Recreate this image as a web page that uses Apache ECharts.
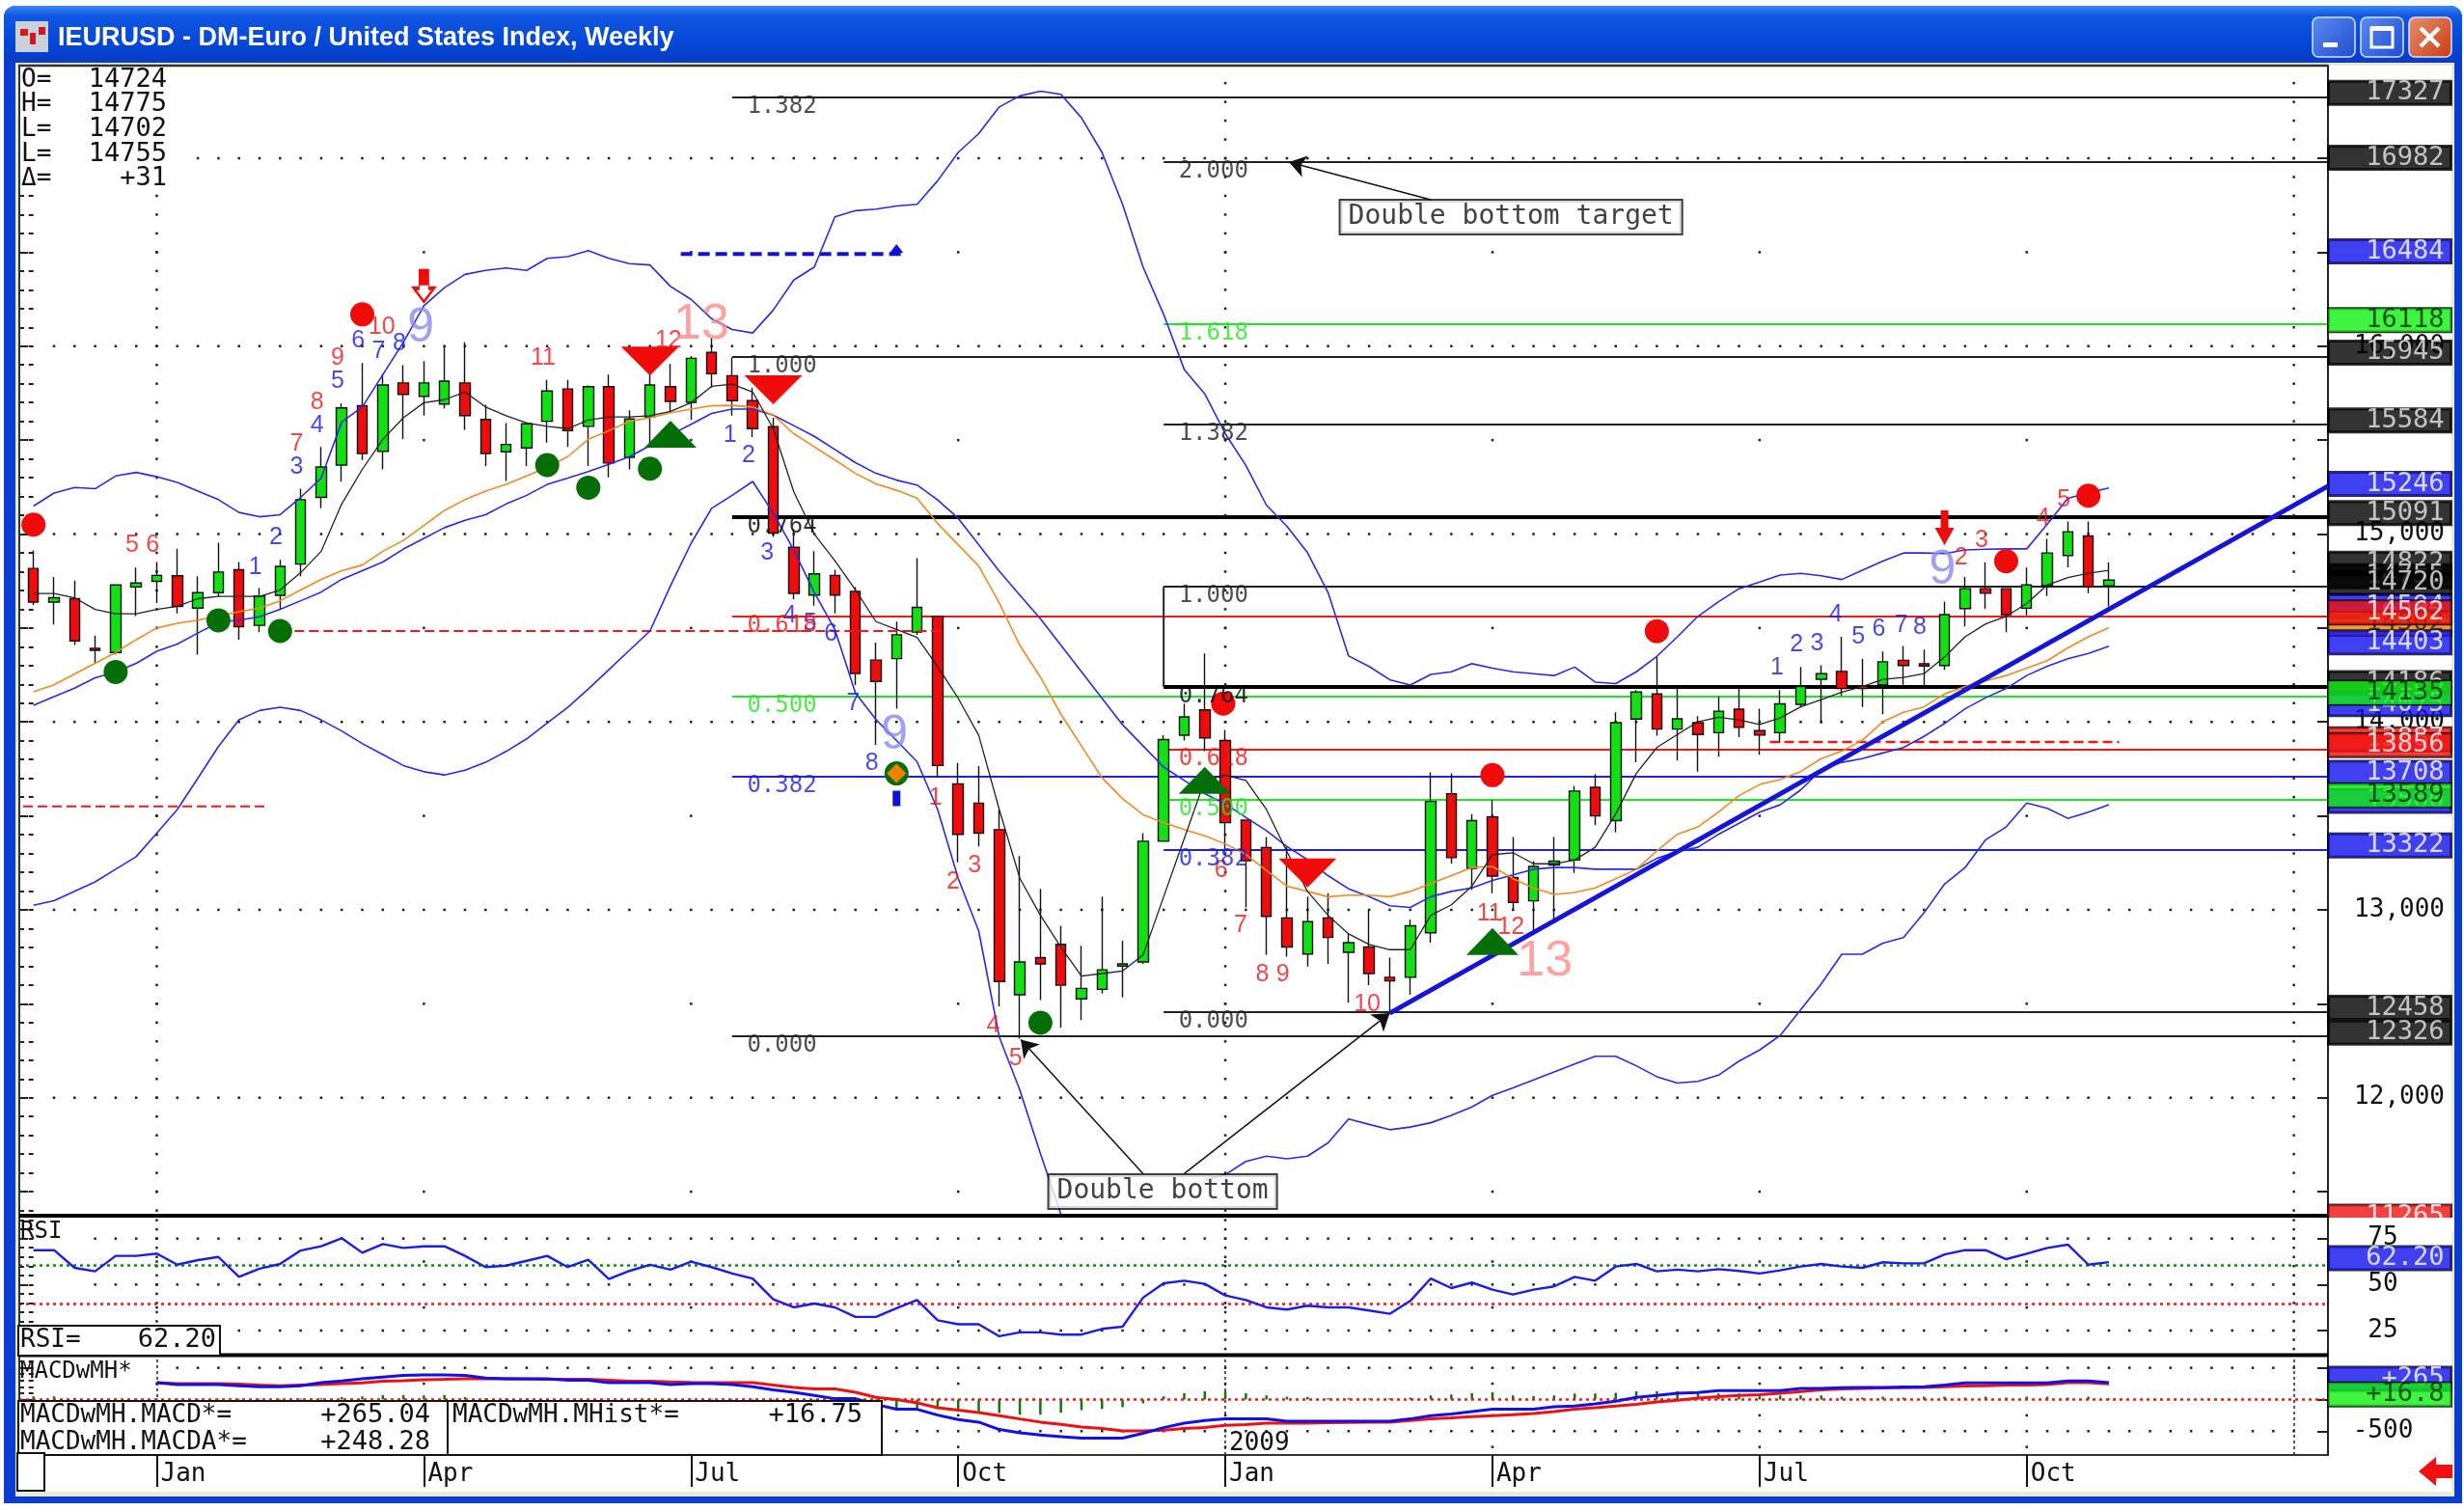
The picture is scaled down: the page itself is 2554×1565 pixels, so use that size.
<!DOCTYPE html>
<html>
<head>
<meta charset="utf-8">
<title>IEURUSD weekly</title>
<script src="https://cdn.jsdelivr.net/npm/echarts@6/dist/echarts.min.js"></script>
<style>
html, body { margin: 0; padding: 0; background: #fff; }
#main { width: 2554px; height: 1565px; }
</style>
</head>
<body>
<div id="main"></div>
<script>
// weekly candles, index 0 = first bar on the left
var opens = [14817,14638,14656,14392,14370,14718,14748,14778,14606,14688,
    14810,14514,14674,14840,15195,15367,15683,15440,15804,15733,
    15692,15804,15610,15438,15458,15600,15772,15573,15784,15408,
    15623,15784,15701,15967,15843,15710,15571,14929,14675,14780,
    14695,14329,14337,14478,14563,13670,13568,13427,12548,12746,
    12816,12526,12577,12701,12723,13365,13929,14064,13901,13478,
    13332,12957,12765,12957,12774,12802,12641,12641,12878,13618,
    13221,13495,13172,13048,13239,13265,13652,13475,14015,14149,
    13962,13996,13943,14068,13954,13943,14094,14227,14269,14192,
    14198,14328,14310,14300,14603,14709,14709,14605,14725,14886,
    14990,14724];
var closes = [14638,14661,14431,14381,14729,14739,14780,14615,14688,14798,
    14507,14670,14828,15183,15357,15671,15428,15793,15743,15804,
    15814,15630,15428,15477,15587,15761,15550,15784,15378,15612,
    15793,15706,15935,15853,15710,15561,15005,14684,14788,14675,
    14258,14216,14464,14610,13768,13402,13408,12619,12723,12712,
    12599,12582,12681,12712,13365,13906,14027,13915,13464,13261,
    12965,12802,12937,12853,12825,12661,12622,12915,13577,13278,
    13475,13180,13039,13231,13259,13632,13500,13996,14159,13962,
    14017,13933,14057,13972,13931,14096,14188,14257,14178,14178,
    14320,14300,14298,14571,14709,14685,14571,14729,14899,15012,
    14719,14755];
var lows = [14622,14519,14409,14312,14358,14564,14633,14578,14358,14668,
    14438,14477,14599,14775,15137,15280,15394,15344,15504,15630,
    15669,15555,15362,15282,15362,15486,15463,15362,15302,15344,
    15458,15646,15607,15779,15630,15516,14985,14653,14619,14577,
    14196,13878,14070,14464,13703,13253,13337,12486,12315,12520,
    12374,12413,12554,12534,12712,13365,13901,13844,13309,13013,
    12760,12751,12698,12712,12506,12599,12450,12548,12825,13247,
    13107,13088,13000,12891,12940,13196,13451,13412,13785,13927,
    13795,13736,13815,13919,13825,13888,14080,13992,14139,14080,
    14041,14198,14174,14277,14508,14601,14477,14567,14670,14823,
    14685,14615];
var highs = [14913,14771,14752,14459,14729,14821,14851,14922,14775,14954,
    14851,14713,14862,15241,15463,15694,15910,15853,15898,15921,
    16001,16020,15688,15591,15596,15820,15820,15791,15848,15658,
    15985,15905,15947,16043,15940,15779,15619,15027,14909,14810,
    14718,14422,14534,14872,14563,13782,13765,13534,13286,13112,
    12915,12808,13070,12836,13408,13929,14098,14365,13957,13478,
    13388,13337,13070,13089,12872,13000,12746,12948,13732,13726,
    13510,13585,13388,13259,13388,13658,13722,14051,14169,14345,
    14188,14031,14135,14184,14070,14169,14292,14302,14453,14336,
    14375,14404,14385,14640,14772,14850,14709,14821,14974,15067,
    15067,14850];

// overlays on the price pane
var fastMa = [14684,14684,14661,14599,14576,14576,14599,14615,14656,14668,
    14668,14668,14702,14794,14908,15160,15344,15504,15619,15699,
    15715,15756,15676,15630,15591,15573,15561,15607,15623,15623,
    15630,15653,15699,15786,15798,15756,15561,15225,14999,14858,
    14703,14534,14492,14450,14295,14126,13929,13534,13168,12971,
    12802,12647,12661,12675,12760,13070,13379,13689,13717,13689,
    13534,13309,13098,12971,12872,12816,12788,12788,12971,13027,
    13126,13294,13304,13245,13245,13265,13333,13510,13726,13864,
    13933,14001,14025,14011,13986,14021,14080,14119,14159,14188,
    14227,14237,14257,14345,14453,14522,14562,14630,14729,14768,
    14791,14807];
var orangeMa = [14161,14198,14255,14312,14370,14438,14500,14525,14542,14564,
    14587,14606,14645,14702,14759,14805,14835,14908,14966,15046,
    15126,15183,15229,15264,15309,15355,15412,15504,15550,15600,
    15619,15646,15665,15683,15685,15676,15633,15534,15464,15394,
    15323,15267,15233,15191,15056,14943,14830,14633,14408,14239,
    14041,13872,13703,13591,13506,13464,13427,13394,13351,13295,
    13210,13126,13098,13070,13078,13078,13070,13098,13140,13182,
    13225,13231,13166,13117,13082,13092,13117,13166,13215,13314,
    13402,13441,13520,13608,13667,13693,13736,13805,13844,13903,
    14001,14051,14080,14149,14188,14218,14247,14286,14326,14394,
    14453,14502];
var bandMid = [14089,14135,14180,14235,14266,14312,14376,14415,14473,14530,
    14542,14560,14599,14645,14691,14759,14805,14851,14920,14977,
    15034,15073,15103,15160,15206,15264,15298,15332,15371,15412,
    15470,15527,15584,15642,15665,15665,15633,15577,15520,15450,
    15380,15323,15287,15261,15182,15084,14943,14802,14675,14549,
    14408,14267,14126,13985,13872,13760,13689,13619,13563,13492,
    13422,13337,13267,13182,13112,13070,13022,13013,13070,13098,
    13117,13157,13186,13216,13225,13225,13216,13216,13216,13274,
    13310,13333,13402,13461,13520,13559,13638,13746,13785,13805,
    13835,13864,13923,13992,14070,14129,14178,14247,14296,14336,
    14365,14403];
var bandUp = [15149,15218,15248,15241,15309,15328,15305,15275,15229,15183,
    15115,15092,15103,15195,15298,15596,15676,15848,16020,16215,
    16311,16382,16403,16416,16403,16467,16476,16508,16467,16439,
    16432,16318,16249,16146,16089,16070,16192,16352,16421,16688,
    16721,16729,16746,16755,16880,17031,17131,17273,17332,17357,
    17340,17215,17031,16755,16420,16169,15876,15746,15534,15365,
    15154,15041,14901,14689,14351,14295,14225,14196,14253,14267,
    14310,14286,14267,14257,14247,14292,14212,14204,14267,14349,
    14453,14562,14640,14709,14744,14782,14791,14778,14758,14807,
    14856,14899,14899,14896,14915,14919,14921,14921,15053,15190,
    15220,15245];
// the lower band runs off the pane behind the "Double bottom" box
var bandLow = [13024,13049,13099,13149,13216,13283,13408,13534,13701,13869,
    14011,14061,14078,14061,14011,13952,13885,13827,13768,13735,
    13718,13743,13785,13843,13910,13994,14078,14175,14278,14381,
    14484,14725,14950,15137,15206,15280,15112,14915,14689,14492,
    14154,14013,13901,13788,13534,13168,12887,12323,12041,11703,
    11380,null,null,null,null,null,null,11562,11591,11661,
    11689,11675,11689,11760,11887,11858,11830,11844,11867,11906,
    11951,12013,12053,12095,12137,12179,12221,12221,12170,12112,
    12078,12087,12120,12195,12254,12331,12469,12606,12764,12764,
    12823,12852,12984,13137,13225,13373,13441,13569,13540,13487,
    13520,13560];

var rsi = [68.7,68.7,59.1,57.2,65.6,65.6,66.8,60.8,63.3,65.0,
    54.2,58.6,61.2,68.5,70.8,75.2,67.3,72.0,69.9,70.8,
    70.8,65.6,59.5,60.3,62.9,65.6,59.5,63.5,53.0,57.4,
    60.7,58.1,62.4,59.5,56.0,53.3,42.0,37.6,39.7,37.6,
    32.4,32.4,37.1,41.6,30.6,28.4,28.4,21.9,24.0,24.0,
    22.8,22.8,25.9,27.1,42.9,50.7,52.1,50.4,44.1,41.6,
    37.6,36.4,38.5,37.6,37.6,35.9,34.1,41.1,53.3,48.1,
    51.1,47.2,44.6,47.2,49.0,54.2,52.1,59.8,61.2,57.2,
    58.1,57.2,58.4,57.4,56.0,57.7,59.8,61.2,59.8,59.1,
    62.1,61.5,61.5,66.4,68.7,68.7,63.8,66.8,69.9,71.7,
    60.8,62.2];

var macd = [null,null,null,null,null,null,267,237,237,237,
    217,201,201,217,267,293,328,354,379,389,
    389,379,339,328,328,328,303,303,267,267,
    267,237,252,252,237,201,151,115,64,13,
    13,-78,-154,-154,-246,-317,-357,-474,-525,-561,
    -586,-611,-611,-611,-535,-444,-373,-332,-307,-307,
    -307,-342,-342,-342,-342,-342,-342,-307,-256,-230,
    -190,-154,-154,-154,-114,-103,-68,-27,34,64,
    100,110,140,140,140,140,176,176,186,191,
    191,196,201,227,262,262,262,262,262,293,
    293,265];
var macdAvg = [null,null,null,null,null,null,267,252,252,252,
    242,227,217,227,237,252,262,288,298,313,
    318,328,328,328,323,318,318,318,303,288,
    288,278,272,267,267,267,227,191,166,166,
    115,34,-2,-53,-129,-169,-205,-256,-307,-357,
    -393,-434,-459,-495,-495,-485,-459,-444,-408,-398,
    -373,-373,-373,-368,-362,-357,-357,-332,-307,-291,
    -271,-256,-241,-220,-190,-154,-129,-103,-78,-37,
    -12,24,44,64,74,100,125,151,166,176,
    181,186,191,201,212,217,227,227,237,267,
    267,248];
var macdHist = [50,50,20,20,15,15,15,15,10,10,
    10,10,10,15,20,40,50,70,70,65,
    70,40,20,15,10,10,10,10,10,10,
    10,10,10,10,10,10,-20,-40,-60,-80,
    -100,-130,-150,-150,-150,-170,-190,-215,-240,-240,
    -210,-170,-150,-120,-60,50,100,130,130,100,
    65,45,40,20,20,15,20,30,65,80,
    100,115,65,55,65,95,95,105,130,130,
    130,95,95,95,65,65,65,65,45,30,
    45,30,45,45,30,45,30,45,45,30,
    45,17];

// fibonacci levels: [label, price, colour]
var fibOne = [['1.382',17327,'#222'],['1.000',15945,'#222'],['0.764',15091,'#000'],
    ['0.618',14562,'#f01818'],['0.500',14135,'#22e622'],['0.382',13708,'#2222dd'],['0.000',12326,'#222']];
var fibTwo = [['2.000',16982,'#222'],['1.618',16118,'#22e622'],['1.382',15584,'#222'],['1.000',14720,'#222'],
    ['0.764',14186,'#000'],['0.618',13856,'#f01818'],['0.500',13589,'#22e622'],['0.382',13322,'#2222dd'],['0.000',12458,'#222']];
var fibOneStart = 34, fibTwoStart = 55;

// counters: [week, price, text]
var redCounts = [[4.8,14938,'5'],[5.8,14938,'6'],[12.8,15477,'7'],[13.8,15699,'8'],[14.8,15935,'9'],[16.95,16100,'10'],
    [24.8,15935,'11'],[30.9,16027,'12'],[43.9,13596,'1'],[44.75,13148,'2'],[45.8,13238,'3'],[46.7,12385,'4'],[47.8,12210,'5'],
    [57.8,13210,'6'],[58.75,12915,'7'],[59.8,12656,'8'],[60.8,12656,'9'],[64.9,12498,'10'],[70.85,12980,'11'],[71.9,12905,'12'],
    [93.8,14876,'2'],[94.8,14968,'3'],[97.8,15086,'4'],[98.8,15184,'5']];
var blueCounts = [[10.8,14823,'1'],[11.8,14982,'2'],[12.8,15355,'3'],[13.8,15578,'4'],[14.8,15814,'5'],[15.8,16027,'6'],
    [16.8,15974,'7'],[17.8,16015,'8'],[33.9,15527,'1'],[34.8,15417,'2'],[35.7,14901,'3'],[36.8,14563,'4'],[37.8,14525,'5'],
    [38.8,14470,'6'],[39.9,14098,'7'],[40.8,13782,'8'],[84.85,14286,'1'],[85.8,14410,'2'],[86.8,14418,'3'],[87.7,14571,'4'],
    [88.8,14450,'5'],[89.8,14493,'6'],[90.9,14512,'7'],[91.8,14503,'8']];
var bigRed = [[32.5,16112,'13'],[73.55,12724,'13']];
var bigBlue = [[18.85,16093,'9'],[41.9,13929,'9'],[92.9,14807,'9']];

// markers: [week, price]
var redDots = [[0,15050],[16,16169],[57.9,14098],[71,13717],[79,14483],[96,14856],[100,15204]];
var greenDots = [[4,14266],[9,14541],[12,14484],[25,15367],[27,15247],[30,15348],[42,13726],[49,12399]];
var sellTriangles = [[30,15921],[36,15768],[62,13196]];
var buyTriangles = [[31,15532],[57,13689],[71,12832]];

// price tags on the right, listed bottom to top of the stacking
var tagValues = [17327,16982,16484,16118,15945,15584,15246,15091,14822,14755,14720,14594,14502,14403,14562,14186,14075,14135,13887,13856,13708,13560,13589,13322,12458,12326];
var tagColors = ['k','k','b','g','k','k','b','k','k','k','k','b','o','b','r','k','b','g','r','r','b','b','g','b','k','k'];

var monthTicks = [6,19,32,45,58,71,84,97];
var monthLabels = ['Jan','Apr','Jul','Oct','Jan','Apr','Jul','Oct'];
var priceLabels = [12000,13000,14000,15000,16000];
var rsiLabels = [25,50,75];
var macdLabels = [-500];

var MONO = '"DejaVu Sans Mono", monospace';
var SANS = '"Liberation Sans", Arial, sans-serif';
var xMin = -0.69, xMax = 111.66;
var paneBox = { left: 20, right: 141 };

function steps(a, b, step) {
    var out = [];
    for (var v = a; v <= b + 1e-6; v += step) out.push(v);
    return out;
}
function pts(values) {
    return values.map(function (v, i) { return [i, v]; });
}
function xAxisFor(grid, shown) {
    return {
        type: 'value', gridIndex: grid, min: xMin, max: xMax, show: shown,
        splitLine: { show: false },
        axisLine: { show: true, onZero: false, lineStyle: { color: '#333', width: 2 } },
        axisTick: { show: true, customValues: monthTicks, length: 33, lineStyle: { color: '#111', width: 2 } },
        axisLabel: {
            show: true, customValues: monthTicks, align: 'left', margin: 7, padding: [0, 0, 0, 4],
            color: '#111', fontFamily: MONO, fontSize: 26,
            formatter: function (v) { return monthLabels[monthTicks.indexOf(v)]; }
        }
    };
}
// every pane has fine and coarse ticks on both sides, so four y axes share one scale
function paneAxes(grid, min, max, fine, coarse, labels, labelStyle, z) {
    function ax(pos, ticks, len, extra) {
        var a = {
            type: 'value', gridIndex: grid, position: pos, min: min, max: max, z: z,
            splitLine: { show: false },
            axisLine: { show: false },
            axisTick: { show: true, inside: true, length: len, customValues: ticks, lineStyle: { color: '#222', width: 2 } },
            axisLabel: { show: false }
        };
        for (var k in extra) a[k] = extra[k];
        return a;
    }
    return [
        ax('right', fine, 5, {}),
        ax('right', coarse, 11, {
            axisLine: { show: true, onZero: false, lineStyle: { color: '#222', width: 2 } },
            axisLabel: Object.assign({ show: true, customValues: labels, color: '#111', fontFamily: MONO, fontSize: 26 }, labelStyle)
        }),
        ax('left', fine, 5, {}),
        ax('left', coarse, 9, {})
    ];
}
function lineSeries(name, values, color, width, xi, yi, z) {
    return {
        name: name, type: 'line', data: pts(values), xAxisIndex: xi, yAxisIndex: yi, z: z || 3,
        symbol: 'none', smooth: false, lineStyle: { color: color, width: width }
    };
}
function segment(name, a, b, color, width, dash, z) {
    return {
        name: name, type: 'line', data: [a, b], xAxisIndex: 0, yAxisIndex: 0, z: z || 3,
        symbol: 'none', lineStyle: { color: color, width: width, type: dash || 'solid' }
    };
}
function markers(name, rows, symbol, size, color, rotate, z, xi, yi) {
    return {
        name: name, type: 'scatter', data: rows, xAxisIndex: xi || 0, yAxisIndex: yi || 0, z: z || 4,
        symbol: symbol, symbolSize: size, symbolRotate: rotate || 0, clip: true,
        itemStyle: { color: color, opacity: 1 }
    };
}
function textSeries(name, rows, color, fontSize, family) {
    return {
        name: name, type: 'scatter', data: rows, xAxisIndex: 0, yAxisIndex: 0, z: 5, clip: false,
        symbolSize: 1, itemStyle: { color: 'rgba(0,0,0,0)' },
        label: {
            show: true, position: 'inside', color: color, fontSize: fontSize, fontFamily: family || SANS,
            formatter: function (p) { return p.data[2]; }
        }
    };
}
function fibSeries(name, levels, start) {
    return {
        name: name, type: 'line', data: [], xAxisIndex: 0, yAxisIndex: 0,
        markLine: {
            silent: true, z: 1, symbol: 'none', label: { show: false }, animation: false,
            data: levels.map(function (f) {
                return [
                    { coord: [start, f[1]], lineStyle: { color: f[2], width: f[0] === '0.764' ? 4 : 2, type: 'solid' } },
                    { coord: [xMax, f[1]] }
                ];
            })
        }
    };
}
function fibLabels(name, levels, start) {
    return {
        name: name, type: 'scatter', xAxisIndex: 0, yAxisIndex: 0, z: 5, clip: false,
        symbolSize: 1, itemStyle: { color: 'rgba(0,0,0,0)' },
        data: levels.map(function (f) {
            return {
                value: [start, f[1]],
                label: {
                    show: true, position: 'right', distance: 0, offset: [15, 10], formatter: f[0],
                    color: f[2], fontFamily: MONO, fontSize: 24
                }
            };
        })
    };
}
function arrowLines(rows) {
    return {
        name: 'arrows', type: 'line', data: [], xAxisIndex: 0, yAxisIndex: 0,
        markLine: {
            silent: true, z: 4, symbol: ['none', 'arrow'], symbolSize: 17, label: { show: false }, animation: false,
            lineStyle: { color: '#111', width: 1.5, type: 'solid' },
            data: rows.map(function (r) { return [{ coord: r[0] }, { coord: r[1] }]; })
        }
    };
}
function hLines(name, xi, yi, rows) {
    return {
        name: name, type: 'line', data: [], xAxisIndex: xi, yAxisIndex: yi,
        markLine: {
            silent: true, z: 3, symbol: 'none', label: { show: false }, animation: false,
            data: rows.map(function (r) {
                return [
                    { coord: [xMin, r[0]], lineStyle: { color: r[1], width: 2.5, type: [3, 4] } },
                    { coord: [xMax, r[0]] }
                ];
            })
        }
    };
}
var tagFill = { k: '#000', b: '#1010ee', g: '#10f010', r: '#f01010', o: '#f08000' };
var tagInk = { k: '#e8e8e8', b: '#fff', g: '#003000', r: '#fff', o: '#222' };
function tagItem(value, colorKey, text) {
    return {
        value: [xMax, value],
        label: {
            show: true, position: 'right', distance: 0, align: 'right', verticalAlign: 'middle',
            offset: [127, -4], width: 120, height: 24, lineHeight: 24, padding: [0, 7, 0, 0],
            formatter: text, color: tagInk[colorKey], backgroundColor: tagFill[colorKey],
            borderColor: '#000', borderWidth: 1.5, fontFamily: MONO, fontSize: 27
        }
    };
}
function tagSeries(name, items, xi, yi, z) {
    return {
        name: name, type: 'scatter', data: items, xAxisIndex: xi, yAxisIndex: yi, z: z, clip: false,
        symbolSize: 1, itemStyle: { color: 'rgba(0,0,0,0)' }
    };
}

// dotted price grid, same spacing as the bars
var dotsMain = [], dotsRsi = [], dotsMacd = [];
[12000,13000,14000,15000,16000,17000].forEach(function (lvl) {
    steps(1, 110, 1).forEach(function (i) { dotsMain.push([i, lvl]); });
});
[6,58,110].forEach(function (c) {
    steps(11400, 17400, 100).forEach(function (lvl) { dotsMain.push([c, lvl]); });
    steps(15, 85, 5).forEach(function (lvl) { dotsRsi.push([c, lvl]); });
});
monthTicks.forEach(function (c) {
    [11500,12500,13500,14500,15500,16500,17500].forEach(function (lvl) { dotsMain.push([c, lvl]); });
    [37.5,62.5].forEach(function (lvl) { dotsRsi.push([c, lvl]); });
    [250,-250,-750].forEach(function (lvl) { dotsMacd.push([c, lvl]); });
});
[75,50,25].forEach(function (lvl) {
    steps(3, 110, 1).forEach(function (i) { dotsRsi.push([i, lvl]); });
});
[500,-500].forEach(function (lvl) {
    steps(7, 110, 1).forEach(function (i) { dotsMacd.push([i, lvl]); });
});

var candles = opens.map(function (o, i) { return [i, o, closes[i], lows[i], highs[i]]; });
var histBars = pts(macdHist);

var arrowDown = 'path://M3,0 H7 V6 H10 L5,12 L0,6 H3 Z';

var yAxes = []
    .concat(paneAxes(0, 11367, 17493, steps(11400, 17400, 100), steps(11500, 17000, 500), priceLabels,
        { align: 'right', margin: 121 }, 0))
    .concat(paneAxes(1, 11.37, 86.37, steps(15, 85, 5), rsiLabels, rsiLabels,
        { align: 'center', margin: 57 }, 4))
    .concat(paneAxes(2, -877, 678, steps(-800, 600, 100), [-500, 0, 500], macdLabels,
        { align: 'center', margin: 57 }, 0));

var series = [
    { name: 'fib guide', type: 'line', data: [[fibTwoStart, 14720], [fibTwoStart, 14186]], xAxisIndex: 0, yAxisIndex: 0, z: 1, symbol: 'none', lineStyle: { color: '#222', width: 2 } },
    markers('price dots', dotsMain, 'rect', 2.5, '#222', 0, 1),
    fibSeries('fib one', fibOne, fibOneStart),
    fibSeries('fib two', fibTwo, fibTwoStart),
    segment('resist dash', [31.5, 16490], [42.4, 16490], '#1010d8', 4, [12, 6]),
    segment('stop dash left', [-0.5, 13551], [11.4, 13551], '#f01818', 2, [10, 5]),
    segment('stop dash mid', [12, 14484], [44.2, 14484], '#f01818', 2, [10, 5]),
    segment('stop dash right', [84.5, 13893], [101.5, 13893], '#f01818', 2.5, [10, 5]),
    {
        name: 'EURUSD', type: 'candlestick', data: candles, xAxisIndex: 0, yAxisIndex: 0, z: 2,
        barWidth: 11, clip: true,
        itemStyle: { color: '#12e012', color0: '#ee0c0c', borderColor: '#111', borderColor0: '#111', borderWidth: 1.4 }
    },
    lineSeries('band up', bandUp, '#2a2ae6', 1.6, 0, 0),
    lineSeries('band low', bandLow, '#2a2ae6', 1.6, 0, 0),
    lineSeries('band mid', bandMid, '#2a2ae6', 1.6, 0, 0),
    lineSeries('orange ma', orangeMa, '#f08a20', 1.6, 0, 0),
    lineSeries('fast ma', fastMa, '#222', 1.3, 0, 0),
    segment('trend', [66, 12450], [xMax, 15255], '#1515d8', 5),
    arrowLines([
        [[68, 16779], [61.1, 16979]],
        [[54, 11596], [48.05, 12309]],
        [[56, 11596], [66, 12450]]
    ]),
    markers('red dots', redDots, 'circle', 25, '#f00a0a'),
    markers('green dots', greenDots, 'circle', 25, '#066e06'),
    markers('sell', sellTriangles, 'triangle', [60, 30], '#f00a0a', 180),
    markers('buy', buyTriangles, 'triangle', [54, 28], '#066e06'),
    markers('diamond', [[42, 13726]], 'diamond', 20, '#f08000', 0, 5),
    markers('stub', [[42, 13593]], 'rect', [8, 16], '#1010d8'),
    markers('blue tip', [[42, 16520]], 'triangle', [14, 9], '#1010d8'),
    markers('top arrow', [[19, 16318]], arrowDown, [27, 36], '#f00a0a'),
    markers('top arrow inner', [[19, 16285]], 'path://M2,0 H8 V3 H10 L5,9 L0,3 H2 Z', [15, 15], '#fff', 0, 5),
    markers('down arrow', [[93, 15033]], arrowDown, [20, 36], '#f00a0a'),
    textSeries('red counts', redCounts, '#f01818', 25),
    textSeries('blue counts', blueCounts, '#1a1ae0', 25),
    textSeries('big red', bigRed, '#ff8a8a', 52),
    textSeries('big blue', bigBlue, '#8a8af0', 50),
    fibLabels('fib one labels', fibOne, fibOneStart),
    fibLabels('fib two labels', fibTwo, fibTwoStart),
    {
        name: 'notes', type: 'scatter', xAxisIndex: 0, yAxisIndex: 0, z: 6, clip: false,
        symbolSize: 1, itemStyle: { color: 'rgba(0,0,0,0)' },
        label: {
            show: true, position: 'inside', color: '#111', fontFamily: MONO, fontSize: 28,
            backgroundColor: '#fff', borderColor: '#111', borderWidth: 2, padding: [3, 8, 3, 8],
            formatter: function (p) { return p.data[2]; }
        },
        data: [[71.9, 16687, 'Double bottom target'], [54.95, 11501, 'Double bottom']]
    },
    tagSeries('price tags', tagValues.map(function (v, i) { return tagItem(v, tagColors[i], String(v)); }), 0, 0, 2),
    // the bottom tag is cut by the RSI pane; its box sits a bit above what its text says on this scale
    tagSeries('low tag', [tagItem(11347, 'r', '11265')], 0, 0, 2),

    markers('rsi dots', dotsRsi, 'rect', 2.5, '#222', 0, 1, 1, 4),
    hLines('rsi levels', 1, 4, [[60.3, '#0a8a0a'], [39.6, '#f01818']]),
    lineSeries('RSI', rsi, '#1c1ce8', 2.4, 1, 4),
    tagSeries('rsi tag', [tagItem(62.2, 'b', '62.20')], 1, 4, 5),

    markers('macd dots', dotsMacd, 'rect', 2.5, '#222', 0, 1, 2, 8),
    { name: 'MHist', type: 'bar', data: histBars, xAxisIndex: 2, yAxisIndex: 8, barWidth: 2.5, z: 2, itemStyle: { color: '#0a7a0a' } },
    hLines('macd zero', 2, 8, [[0, '#f01818']]),
    lineSeries('MACDA', macdAvg, '#f01010', 3, 2, 8),
    lineSeries('MACD', macd, '#1010e8', 3, 2, 8),
    tagSeries('macd tags', [tagItem(265, 'b', '+265'), Object.assign(tagItem(16.8, 'g', '+16.8'))], 2, 8, 5),
    {
        name: 'year lines', type: 'line', data: [], xAxisIndex: 2, yAxisIndex: 8,
        markLine: {
            silent: true, z: 2, symbol: 'none', label: { show: false }, animation: false,
            lineStyle: { color: '#222', width: 1.5, type: [3, 3] },
            data: [6, 58, 110].map(function (c) { return [{ coord: [c, -877] }, { coord: [c, 678] }]; })
        }
    }
];

function txt(x, y, s, size, color, align, family, weight) {
    return {
        type: 'text', x: x, y: y, z: 8, silent: true,
        style: {
            text: s, fill: color || '#111', fontSize: size, fontFamily: family || MONO,
            fontWeight: weight || 'normal', align: align || 'left', verticalAlign: 'middle'
        }
    };
}
function box(x, y, w, h, fill, stroke, z, lw) {
    return {
        type: 'rect', z: z === undefined ? 7 : z, silent: true,
        shape: { x: x, y: y, width: w, height: h },
        style: { fill: fill, stroke: stroke || null, lineWidth: lw || 2 }
    };
}
function lineEl(x1, y1, x2, y2, w, color) {
    return {
        type: 'line', z: 7, silent: true, shape: { x1: x1, y1: y1, x2: x2, y2: y2 },
        style: { stroke: color || '#111', lineWidth: w }
    };
}
function winBtn(x, fillA, fillB) {
    return {
        type: 'rect', z: 7, silent: true, shape: { x: x, y: 18, width: 44, height: 41, r: 6 },
        style: {
            fill: new echarts.graphic.LinearGradient(0, 0, 1, 1, [{ offset: 0, color: fillA }, { offset: 1, color: fillB }]),
            stroke: '#d8e4fa', lineWidth: 1.5
        }
    };
}

var chrome = [
    // frame behind the panes
    { type: 'rect', z: -2, silent: true, shape: { x: 4, y: 6, width: 2548, height: 1552, r: [12, 12, 0, 0] }, style: { fill: '#0a3ccf' } },
    {
        type: 'rect', z: -2, silent: true, shape: { x: 4, y: 6, width: 2548, height: 60, r: [12, 12, 0, 0] },
        style: {
            fill: new echarts.graphic.LinearGradient(0, 0, 0, 1, [
                { offset: 0, color: '#3c86f2' }, { offset: 0.18, color: '#0f56e2' },
                { offset: 0.7, color: '#0645d6' }, { offset: 1, color: '#0a3cc4' }
            ])
        }
    },
    box(16, 65, 2528, 1486, '#ece9d8', null, -1),
    box(19, 68, 2522, 1478, '#ffffff', null, -1),
    txt(60, 40, 'IEURUSD - DM-Euro / United States Index, Weekly', 27, '#ffffff', 'left', SANS, 'bold'),
    box(16, 22, 34, 32, '#c8d0dc', null, 7),
    box(21, 30, 8, 7, '#d81818', null, 7),
    box(31, 34, 6, 12, '#d81818', null, 7),
    box(40, 28, 7, 8, '#d81818', null, 7),
    winBtn(2397, '#5e8cf0', '#1f4bd0'),
    winBtn(2447, '#5e8cf0', '#1f4bd0'),
    winBtn(2497, '#e89070', '#c83c10'),
    box(2408, 44, 15, 5, '#ffffff', null, 8),
    box(2458, 29, 22, 20, 'rgba(0,0,0,0)', '#ffffff', 8, 3),
    box(2458, 27, 22, 5, '#ffffff', null, 8),
    lineEl(2509, 29, 2528, 48, 4.5, '#ffffff'),
    lineEl(2528, 29, 2509, 48, 4.5, '#ffffff'),

    // pane borders
    lineEl(19, 68, 2413, 68, 2.5, '#333'),
    lineEl(20, 68, 20, 1508, 2, '#333'),
    lineEl(20, 1260, 2413, 1260, 4, '#000'),
    lineEl(20, 1404.5, 2413, 1404.5, 4, '#000'),

    // cover for the cut-off low tag
    box(2414, 1262, 130, 14, '#ffffff', null, 3),

    // OHLC readout
    box(21, 70, 180, 126, '#ffffff', null, 6),
    txt(22, 83, 'O=', 26), txt(173, 83, '14724', 27, '#111', 'right'),
    txt(22, 108, 'H=', 26), txt(173, 108, '14775', 27, '#111', 'right'),
    txt(22, 134, 'L=', 26), txt(173, 134, '14702', 27, '#111', 'right'),
    txt(22, 160, 'L=', 26), txt(173, 160, '14755', 27, '#111', 'right'),
    txt(22, 185, '\u0394=', 26), txt(173, 185, '+31', 27, '#111', 'right'),

    // pane captions and readout boxes
    txt(21, 1277, 'RSI', 24),
    box(19, 1374, 209, 31, '#ffffff', '#111'),
    txt(21, 1389, 'RSI=', 26), txt(224, 1389, '62.20', 27, '#111', 'right'),
    txt(21, 1422, 'MACDwMH*', 24),
    box(19, 1452, 445, 56, '#ffffff', '#111'),
    box(464, 1452, 450, 56, '#ffffff', '#111'),
    txt(21, 1467, 'MACDwMH.MACD*=', 26), txt(446, 1467, '+265.04', 27, '#111', 'right'),
    txt(21, 1495, 'MACDwMH.MACDA*=', 26), txt(446, 1495, '+248.28', 27, '#111', 'right'),
    txt(469, 1467, 'MACDwMH.MHist*=', 26), txt(894, 1467, '+16.75', 27, '#111', 'right'),
    txt(1274, 1496, '2009', 26),

    // corner bits of the window
    box(18, 1506, 28, 39, '#ffffff', '#111'),
    {
        type: 'polygon', z: 7, silent: true,
        shape: { points: [[2507, 1525], [2525, 1510], [2525, 1518], [2542, 1518], [2542, 1532], [2525, 1532], [2525, 1540]] },
        style: { fill: '#f01010' }
    }
];

var myChart = echarts.init(document.getElementById('main'));
var option = {
    animation: false,
    backgroundColor: '#ffffff',
    grid: [
        { left: paneBox.left, right: paneBox.right, top: 68, height: 1193 },
        { left: paneBox.left, right: paneBox.right, top: 1262, height: 143 },
        { left: paneBox.left, right: paneBox.right, top: 1406, height: 102 }
    ],
    xAxis: [xAxisFor(0, false), xAxisFor(1, false), xAxisFor(2, true)],
    yAxis: yAxes,
    series: series,
    graphic: { elements: chrome }
};
myChart.setOption(option);
</script>
</body>
</html>
